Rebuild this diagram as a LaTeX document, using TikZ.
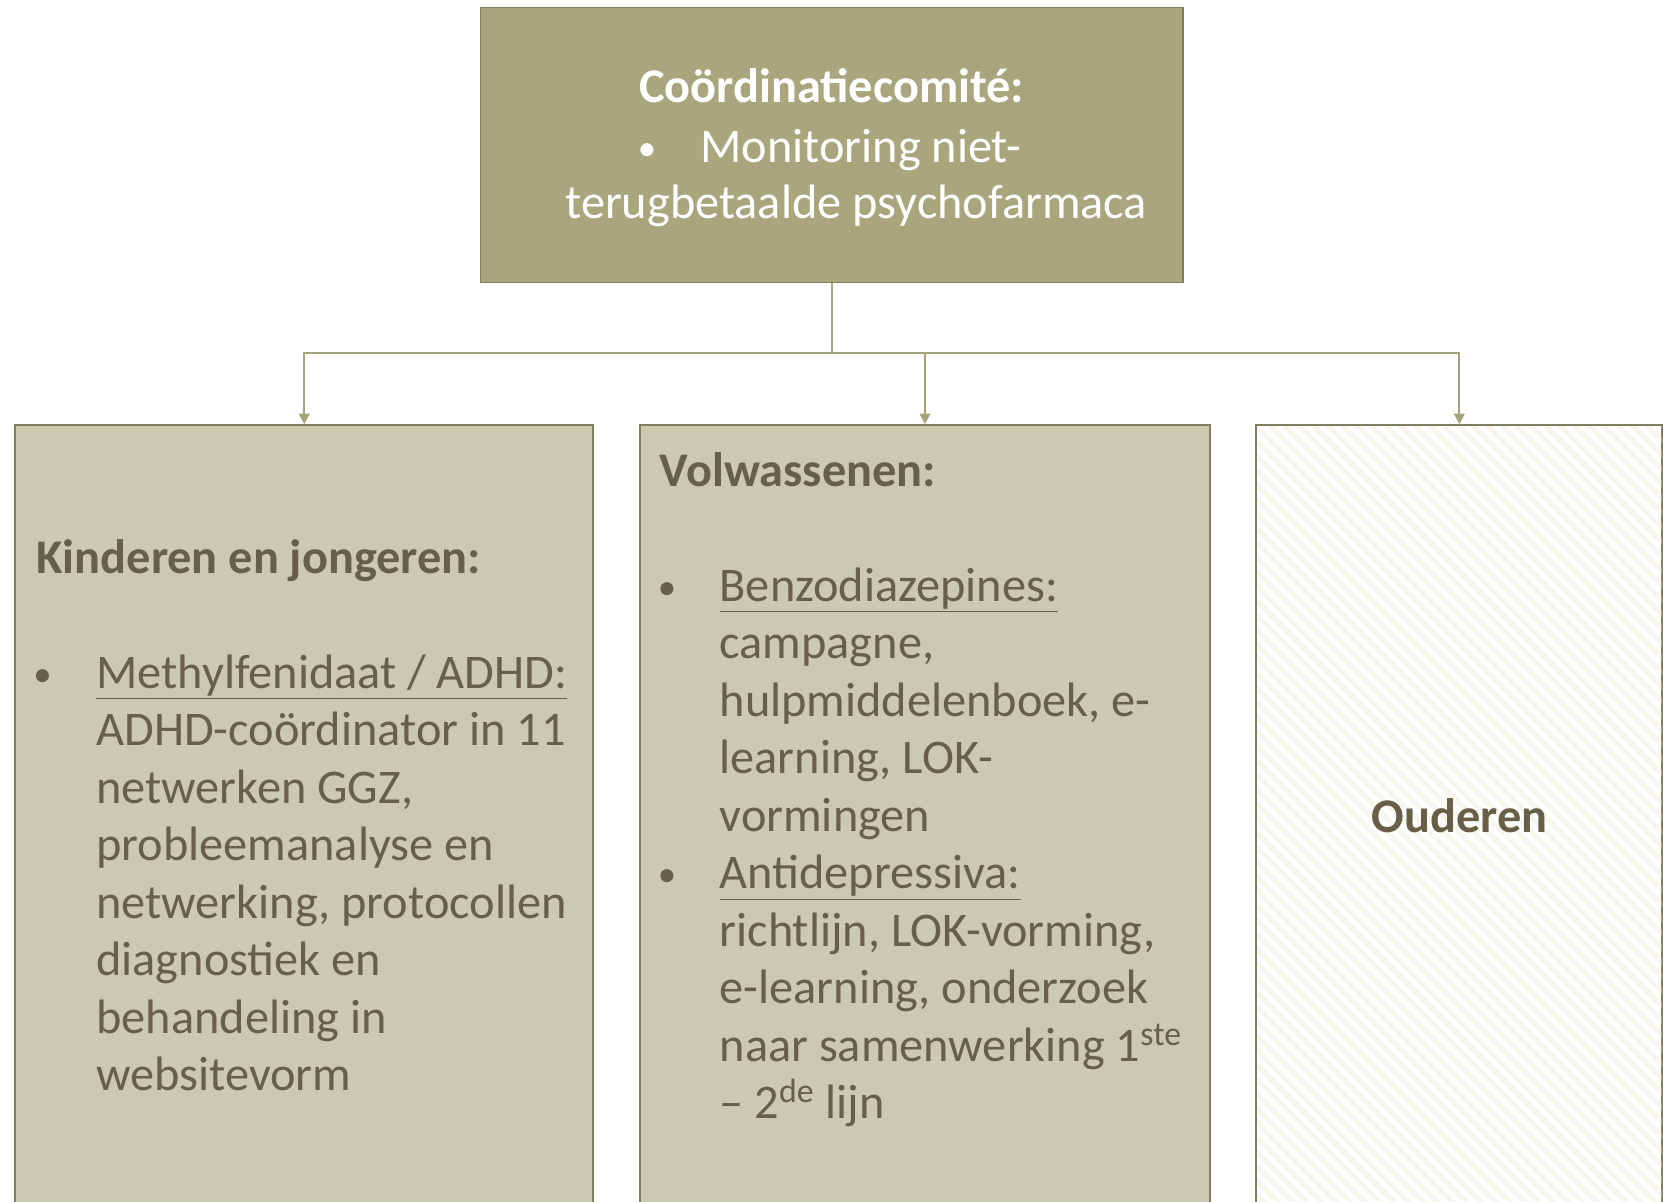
\documentclass[tikz,border=0pt]{standalone}
\usepackage{fontspec}
\setmainfont{Carlito}
\usepackage{tikz}
\usetikzlibrary{positioning, calc, arrows.meta}
\definecolor{comiteFill}{HTML}{A9A67D}
\definecolor{groepFill}{HTML}{CBC9AF}
\definecolor{randKleur}{HTML}{7F7D5C}
\definecolor{lijnKleur}{HTML}{A5A37A}
\definecolor{tekstKleur}{HTML}{675F48}
\definecolor{arceerKleur}{HTML}{F8F7ED}

\begin{document}
\begin{tikzpicture}[x=0.02cm, y=-0.02cm,
    comite/.style={draw=randKleur, line width=1.1pt, fill=comiteFill, minimum width=14.05cm, minimum height=5.5cm},
    groep/.style={draw=randKleur, line width=1.1pt, fill=groepFill, minimum height=16.7cm},
    leeg/.style={draw=randKleur, line width=1.1pt, fill=white, minimum height=16.7cm},
    link/.style={draw=lijnKleur, line width=1.1pt, -{Triangle[width=6pt, length=6pt]}},
    tekst/.style={inner sep=0pt, text=tekstKleur, font=\fontsize{27.5}{32.7}\selectfont, align=left},
    kop/.style={tekst, font=\fontsize{27.5}{32.7}\selectfont\bfseries},
    bol/.style={inner sep=0pt, font=\fontsize{21}{25}\selectfont},
    wit/.style={inner sep=0pt, text=white, font=\fontsize{27.5}{32.3}\selectfont}]
      \clip (0,0) rectangle (1671,1201);

      % boxes
      \node[comite] (comite) at (831.7,145) {};
      \node[groep, minimum width=11.57cm] (kind) at (304.2,842.6) {};
      \node[groep, minimum width=11.42cm] (volw) at (925,842.6) {};
      \node[leeg, minimum width=8.12cm] (oud) at (1459.4,842.6) {};

      % hatching of the last box
      \begin{scope}
        \clip ($(oud.north west)+(2,2)$) rectangle ($(oud.south east)+(-2,-2)$);
        \foreach \k in {-900,-885.5,...,450}
          \draw[arceerKleur, line width=2.8pt] (1256+\k,425) -- ++(900,900);
      \end{scope}

      % connectors
      \coordinate (hub) at (831.7,352.7);
      \draw[lijnKleur, line width=1.1pt] (comite.south) -- (hub);
      \draw[link] (hub) -| (kind.north);
      \draw[link] (hub) -| (volw.north);
      \draw[link] (hub) -| (oud.north);

      % top text
      \node[wit, anchor=base, font=\fontsize{27.5}{32.3}\selectfont\bfseries] (titel) at (831.7,102) {Coördinatiecomité:};
      \node[wit, bol, anchor=base] (bol0) at (647,160) {•};
      \node[wit, anchor=base west] (mon1) at (700,162) {Monitoring niet-};
      \node[wit, anchor=base west] (mon2) at (565,218) {terugbetaalde psychofarmaca};

      % kinderen (base = last line)
      \node[kop, anchor=base west] (kindkop) at (36.2,573) {Kinderen en jongeren:};
      \node[tekst, bol, anchor=base] (bol1) at (42.6,686) {•};
      \node[tekst, anchor=base west] (kindtxt) at (96,1090.5) {\underline{Methylfenidaat / ADHD:}\\
        ADHD-coördinator in 11\\
        netwerken GGZ,\\
        probleemanalyse en\\
        netwerking, protocollen\\
        diagnostiek en\\
        behandeling in\\
        websitevorm};

      % volwassenen
      \node[kop, anchor=base west] (volwkop) at (659.6,486) {Volwassenen:};
      \node[tekst, bol, anchor=base] (bol2) at (667,599) {•};
      \node[tekst, anchor=base west] (benzo) at (719.3,831) {\underline{Benzodiazepines:}\\
        campagne,\\
        hulpmiddelenboek, e-\\
        learning, LOK-\\
        vormingen};
      \node[tekst, bol, anchor=base] (bol3) at (667,886.5) {•};
      \node[tekst, anchor=base west] (anti) at (719.3,1118.5) {\underline{Antidepressiva:}\\
        richtlijn, LOK-vorming,\\
        e-learning, onderzoek\\
        naar samenwerking 1\textsuperscript{ste}\\
        – 2\textsuperscript{de} lijn};

      % ouderen
      \node[kop] (oudtxt) at (1459.4,816) {Ouderen};
    \end{tikzpicture}
\end{document}
